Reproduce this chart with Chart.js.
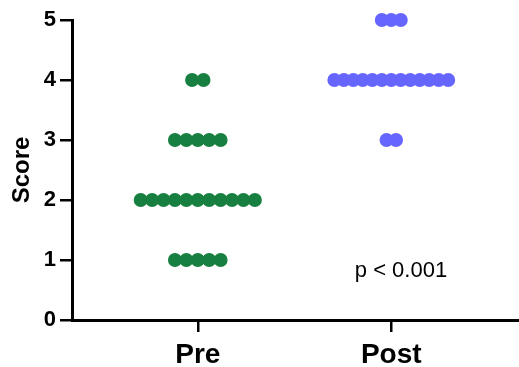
<!DOCTYPE html>
<html>
<head>
<meta charset="utf-8">
<script src="https://cdn.jsdelivr.net/npm/chart.js@4"></script>
<style>
  html, body { margin: 0; padding: 0; background: #fff; overflow: hidden; }
</style>
</head>
<body>
<canvas id="myChart" width="519" height="367"></canvas>
<script>
const groups = ['Pre', 'Post'];
const preScores = [4, 4, 3, 3, 3, 3, 3, 2, 2, 2, 2, 2, 2, 2, 2, 2, 2, 2, 1, 1, 1, 1, 1];
const postScores = [5, 5, 5, 4, 4, 4, 4, 4, 4, 4, 4, 4, 4, 4, 4, 4, 3, 3];
const yTicks = [0, 1, 2, 3, 4, 5];
const pText = 'p < 0.001';

// horizontal spacing of the swarm dots (in x units, 1 unit = distance between groups)
const swarmGap = [0.059, 0.049];

const swarm = (scores, groupIndex) => {
  const counts = {};
  scores.forEach((s) => { counts[s] = (counts[s] || 0) + 1; });
  const seen = {};
  return scores.map((s) => {
    const i = seen[s] || 0;
    seen[s] = i + 1;
    const offset = (i - (counts[s] - 1) / 2) * swarmGap[groupIndex];
    return { x: groupIndex + 1 + offset, y: s };
  });
};

const font = '"Liberation Sans", Arial, sans-serif';

const pLabel = {
  id: 'pLabel',
  afterDatasetsDraw(chart) {
    const { ctx, scales } = chart;
    ctx.save();
    ctx.font = '22px ' + font;
    ctx.fillStyle = '#000';
    ctx.textAlign = 'center';
    ctx.textBaseline = 'middle';
    ctx.fillText(pText, scales.x.getPixelForValue(2.05), scales.y.getPixelForValue(0.82));
    ctx.restore();
  },
};

const config = {
  type: 'scatter',
  data: {
    datasets: [
      {
        label: groups[0],
        data: swarm(preScores, 0),
        backgroundColor: '#178040',
        borderWidth: 0,
        pointRadius: 7,
        pointHoverRadius: 7,
        clip: false,
      },
      {
        label: groups[1],
        data: swarm(postScores, 1),
        backgroundColor: '#6666ff',
        borderWidth: 0,
        pointRadius: 7,
        pointHoverRadius: 7,
        clip: false,
      },
    ],
  },
  options: {
    responsive: false,
    animation: false,
    layout: { autoPadding: false, padding: { top: 20, right: 0, left: 0, bottom: 0 } },
    plugins: { legend: { display: false }, tooltip: { enabled: false } },
    scales: {
      x: {
        type: 'linear',
        min: 0.35,
        max: 2.66,
        afterBuildTicks: (scale) => {
          scale.ticks = groups.map((g, i) => ({ value: i + 1 }));
        },
        afterFit: (scale) => {
          scale.height = 47;
          scale.paddingLeft = 0;
          scale.paddingRight = 0;
        },
        ticks: {
          callback: (v) => groups[v - 1],
          color: '#000',
          font: { family: font, size: 28, weight: 'bold' },
          padding: 6,
          maxRotation: 0,
        },
        grid: { drawOnChartArea: false, drawTicks: true, tickLength: 12, color: '#000', lineWidth: 2.5 },
        border: { color: '#000', width: 3 },
      },
      y: {
        min: 0,
        max: 5,
        afterBuildTicks: (scale) => {
          scale.ticks = yTicks.map((v) => ({ value: v }));
        },
        afterFit: (scale) => {
          scale.width = 72;
          scale.paddingTop = 0;
          scale.paddingBottom = 0;
        },
        ticks: {
          color: '#000',
          font: { family: font, size: 22, weight: 'bold' },
          padding: 4,
        },
        grid: { drawOnChartArea: false, drawTicks: true, tickLength: 12, color: '#000', lineWidth: 2.5 },
        border: { color: '#000', width: 3 },
        title: {
          display: true,
          text: 'Score',
          color: '#000',
          font: { family: font, size: 24, weight: 'bold' },
          padding: { top: 8, bottom: 0 },
        },
      },
    },
  },
  plugins: [pLabel],
};

const myChart = new Chart(document.querySelector('#myChart'), config);
</script>
</body>
</html>
